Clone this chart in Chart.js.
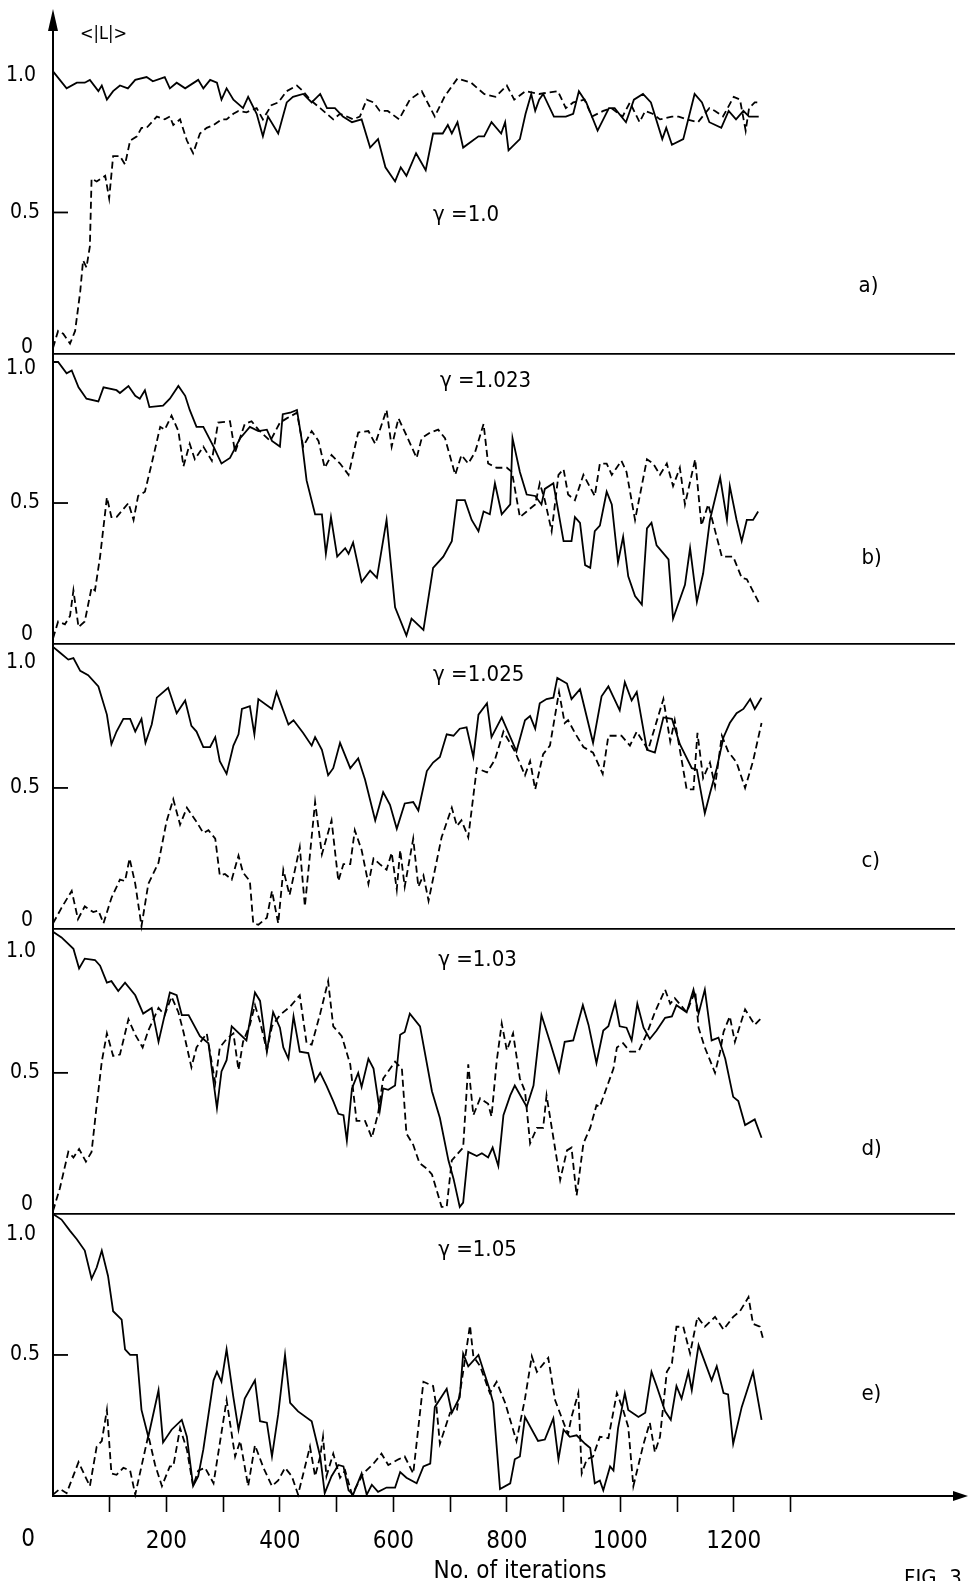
<!DOCTYPE html>
<html>
<head>
<meta charset="utf-8">
<title>FIG. 3</title>
<script src="https://cdn.jsdelivr.net/npm/chart.js@4/dist/chart.umd.min.js"></script>
<style>
    html, body { margin: 0; padding: 0; background: #fff; }
    canvas { display: block; }
</style>
</head>
<body>
<canvas id="fig" width="974" height="1581"></canvas>
<script>
"use strict";

// x axis: tick marks and the ones that carry a label
var xTicks = [100, 200, 300, 400, 500, 600, 700, 800, 900, 1000, 1100, 1200, 1300];
var xLabels = [200, 400, 600, 800, 1000, 1200];
var yTicks = [0, 0.5, 1.0];

// series are [iteration, <|L|>] pairs
// a) gamma = 1.0
var aSolid = [[0,1.0],[24,.94],[42,.96],[56,.96],[65,.97],[80,.93],[86,.95],[95,.90],[106,.93],[118,.95],[132,.94],[145,.97],[165,.98],[176,.965],[197,.98],[206,.94],[218,.96],[233,.94],[256,.97],[265,.94],[277,.97],[289,.96],[297,.90],[306,.94],[318,.90],[335,.87],[344,.91],[359,.85],[370,.77],[379,.84],[397,.78],[412,.89],[423,.91],[441,.92],[456,.89],[471,.92],[483,.87],[497,.87],[511,.84],[527,.82],[544,.83],[559,.73],[573,.76],[586,.66],[603,.61],[613,.66],[623,.63],[640,.71],[657,.65],[670,.78],[687,.78],[696,.81],[703,.78],[713,.82],[723,.73],[750,.77],[760,.77],[773,.82],[790,.78],[797,.82],[803,.72],[823,.76],[833,.85],[843,.92],[850,.86],[857,.90],[864,.92],[883,.84],[904,.84],[917,.85],[927,.93],[940,.89],[960,.79],[980,.87],[990,.87],[1010,.82],[1024,.90],[1040,.92],[1054,.89],[1074,.76],[1081,.80],[1091,.74],[1111,.76],[1131,.92],[1144,.89],[1157,.82],[1178,.80],[1191,.86],[1204,.83],[1217,.86],[1227,.84],[1244,.84]];
var aDashed = [[0,.02],[9,.08],[18,.07],[30,.035],[39,.08],[48,.22],[53,.33],[59,.305],[65,.38],[68,.62],[77,.61],[92,.63],[99,.55],[106,.70],[118,.70],[127,.67],[136,.755],[148,.77],[156,.80],[165,.80],[183,.84],[197,.83],[206,.84],[212,.81],[224,.83],[236,.755],[247,.71],[259,.78],[271,.80],[283,.81],[297,.83],[306,.83],[318,.85],[327,.86],[341,.855],[359,.87],[370,.83],[385,.88],[397,.89],[412,.93],[430,.95],[441,.93],[453,.90],[471,.87],[494,.83],[506,.85],[518,.84],[529,.83],[541,.84],[553,.90],[565,.89],[576,.86],[590,.86],[610,.83],[629,.90],[643,.92],[650,.93],[673,.84],[690,.91],[713,.975],[737,.96],[760,.92],[780,.91],[800,.95],[813,.90],[833,.93],[857,.92],[890,.93],[904,.87],[917,.89],[937,.90],[950,.84],[970,.86],[984,.87],[1004,.84],[1017,.89],[1034,.82],[1044,.86],[1057,.85],[1070,.83],[1091,.84],[1103,.84],[1117,.83],[1137,.82],[1157,.87],[1167,.86],[1181,.84],[1200,.91],[1211,.90],[1221,.79],[1227,.87],[1237,.89],[1244,.89]];

// b) gamma = 1.023
var bSolid = [[0,1.0],[9,1.0],[24,.96],[33,.97],[45,.91],[59,.87],[80,.86],[89,.91],[112,.90],[118,.89],[133,.915],[145,.88],[153,.87],[162,.90],[170,.84],[194,.845],[206,.87],[221,.915],[233,.88],[241,.83],[253,.77],[265,.77],[283,.70],[297,.64],[312,.66],[330,.73],[347,.77],[362,.755],[377,.76],[386,.72],[400,.70],[405,.815],[418,.82],[430,.83],[438,.73],[447,.58],[462,.46],[474,.46],[481,.32],[490,.45],[501,.31],[515,.34],[521,.32],[529,.36],[544,.22],[559,.26],[571,.235],[588,.44],[603,.13],[623,.03],[632,.09],[653,.05],[670,.27],[688,.31],[703,.365],[712,.51],[726,.51],[738,.44],[750,.40],[759,.47],[770,.46],[779,.57],[791,.46],[806,.495],[810,.73],[823,.61],[835,.53],[850,.525],[861,.495],[867,.55],[882,.57],[900,.365],[914,.365],[920,.45],[929,.43],[938,.28],[947,.27],[955,.40],[964,.42],[976,.54],[985,.495],[996,.29],[1005,.38],[1014,.24],[1026,.17],[1038,.14],[1047,.41],[1055,.43],[1064,.35],[1085,.30],[1093,.09],[1114,.21],[1123,.34],[1135,.15],[1146,.25],[1158,.44],[1176,.59],[1188,.44],[1193,.56],[1205,.44],[1214,.365],[1223,.44],[1234,.44],[1243,.47]];
var bDashed = [[0,.02],[9,.08],[21,.07],[30,.10],[36,.19],[45,.06],[56,.08],[68,.20],[74,.19],[83,.31],[95,.52],[103,.45],[112,.45],[133,.50],[142,.44],[150,.525],[162,.54],[174,.64],[189,.77],[197,.76],[209,.81],[221,.755],[230,.63],[241,.71],[250,.655],[265,.70],[280,.65],[291,.785],[312,.79],[321,.68],[338,.78],[350,.79],[362,.76],[383,.72],[400,.785],[412,.80],[421,.81],[430,.82],[441,.70],[456,.755],[468,.72],[479,.625],[491,.67],[506,.64],[521,.60],[538,.75],[556,.755],[568,.71],[588,.83],[597,.70],[609,.80],[623,.74],[641,.66],[650,.73],[665,.75],[679,.76],[691,.73],[709,.60],[720,.67],[732,.64],[744,.68],[759,.78],[767,.64],[782,.625],[800,.625],[809,.61],[823,.45],[835,.47],[850,.495],[858,.57],[867,.51],[879,.40],[891,.60],[900,.62],[908,.53],[920,.51],[935,.60],[955,.525],[964,.64],[976,.64],[985,.60],[1002,.65],[1011,.61],[1026,.44],[1047,.655],[1058,.64],[1070,.60],[1082,.64],[1093,.56],[1105,.625],[1114,.495],[1132,.655],[1143,.42],[1155,.495],[1179,.31],[1199,.31],[1214,.235],[1223,.23],[1246,.14]];

// c) gamma = 1.025
var cSolid = [[0,1.0],[12,.98],[27,.955],[36,.96],[48,.915],[62,.90],[80,.86],[95,.76],[103,.655],[112,.70],[124,.745],[136,.745],[145,.70],[156,.745],[163,.66],[174,.725],[183,.82],[203,.855],[218,.765],[233,.81],[244,.72],[253,.70],[265,.645],[277,.645],[286,.68],[294,.595],[306,.55],[318,.65],[327,.69],[333,.78],[347,.79],[355,.69],[362,.815],[386,.78],[394,.84],[415,.725],[424,.74],[441,.695],[456,.65],[462,.68],[474,.635],[485,.545],[494,.57],[506,.66],[524,.57],[538,.605],[550,.53],[568,.385],[582,.485],[594,.44],[606,.355],[620,.445],[635,.45],[644,.42],[659,.56],[670,.59],[682,.61],[694,.69],[706,.685],[717,.71],[729,.715],[741,.61],[750,.76],[765,.80],[773,.68],[791,.75],[817,.63],[832,.74],[841,.755],[850,.71],[858,.80],[870,.815],[882,.82],[889,.89],[906,.87],[914,.815],[929,.85],[952,.66],[967,.825],[979,.86],[999,.775],[1008,.875],[1020,.81],[1029,.84],[1047,.635],[1061,.625],[1076,.75],[1091,.745],[1105,.655],[1126,.57],[1135,.565],[1149,.41],[1158,.48],[1170,.57],[1182,.68],[1193,.73],[1205,.765],[1217,.78],[1229,.815],[1237,.78],[1249,.82]];
var cDashed = [[0,.02],[15,.075],[33,.135],[44,.035],[56,.08],[71,.06],[80,.065],[89,.02],[103,.11],[118,.175],[127,.17],[135,.25],[145,.16],[156,.01],[168,.16],[186,.235],[200,.38],[212,.46],[224,.37],[236,.43],[253,.38],[265,.34],[274,.35],[286,.32],[294,.19],[303,.195],[315,.175],[327,.26],[335,.20],[347,.17],[353,.02],[362,.015],[377,.04],[386,.135],[397,.02],[406,.21],[417,.12],[435,.29],[444,.08],[462,.45],[474,.265],[491,.385],[503,.17],[512,.23],[524,.23],[532,.35],[544,.28],[556,.16],[565,.25],[576,.23],[588,.21],[597,.27],[606,.14],[612,.28],[620,.15],[635,.32],[644,.15],[653,.19],[662,.10],[685,.325],[703,.43],[712,.365],[720,.385],[732,.325],[747,.57],[765,.555],[779,.60],[794,.70],[814,.63],[832,.545],[841,.595],[850,.495],[864,.62],[876,.65],[892,.84],[902,.73],[908,.74],[920,.695],[935,.645],[952,.625],[969,.55],[979,.685],[1002,.685],[1017,.65],[1029,.70],[1049,.635],[1076,.815],[1088,.665],[1096,.74],[1117,.495],[1129,.495],[1136,.695],[1146,.535],[1158,.59],[1167,.505],[1179,.685],[1190,.63],[1205,.59],[1220,.50],[1234,.595],[1249,.73]];

// d) gamma = 1.03
var dSolid = [[0,1.0],[15,.98],[36,.94],[46,.87],[56,.905],[74,.90],[83,.88],[95,.82],[103,.825],[115,.79],[127,.82],[145,.775],[159,.71],[174,.73],[186,.61],[206,.785],[218,.775],[227,.705],[239,.705],[259,.63],[274,.605],[289,.375],[297,.505],[306,.545],[315,.665],[341,.615],[356,.785],[365,.755],[377,.575],[388,.715],[400,.66],[406,.59],[415,.55],[424,.70],[435,.575],[450,.57],[462,.47],[471,.50],[482,.455],[494,.40],[503,.355],[512,.35],[518,.26],[527,.445],[538,.50],[544,.45],[556,.55],[565,.515],[576,.365],[582,.445],[591,.44],[603,.455],[612,.635],[620,.645],[629,.71],[647,.665],[668,.435],[682,.34],[697,.19],[706,.125],[717,.025],[723,.04],[732,.22],[747,.205],[756,.215],[767,.20],[775,.235],[785,.17],[794,.35],[806,.42],[814,.455],[835,.38],[847,.455],[861,.705],[876,.61],[892,.505],[902,.61],[917,.615],[934,.74],[944,.67],[958,.535],[970,.65],[979,.665],[991,.75],[999,.665],[1011,.66],[1020,.615],[1030,.745],[1041,.66],[1052,.62],[1064,.65],[1079,.695],[1091,.70],[1099,.74],[1117,.715],[1129,.795],[1138,.71],[1149,.795],[1161,.615],[1173,.625],[1185,.55],[1199,.415],[1208,.40],[1220,.315],[1237,.335],[1249,.27]];
var dDashed = [[0,.01],[12,.09],[27,.22],[36,.20],[46,.23],[58,.185],[68,.22],[77,.385],[86,.54],[95,.64],[106,.56],[118,.565],[133,.69],[145,.635],[158,.59],[168,.65],[186,.73],[197,.705],[209,.77],[221,.715],[230,.645],[244,.52],[253,.59],[271,.64],[286,.465],[294,.59],[306,.62],[318,.64],[327,.51],[335,.61],[347,.67],[356,.74],[365,.68],[377,.58],[386,.665],[400,.705],[418,.735],[435,.775],[447,.605],[456,.60],[471,.71],[485,.825],[494,.665],[509,.63],[524,.53],[529,.44],[535,.33],[550,.33],[562,.27],[573,.355],[582,.48],[603,.54],[615,.515],[623,.285],[635,.245],[646,.18],[659,.16],[668,.14],[685,.025],[694,.025],[703,.19],[723,.235],[732,.53],[741,.35],[753,.41],[767,.39],[773,.345],[782,.54],[791,.675],[800,.58],[811,.64],[823,.48],[832,.435],[841,.25],[853,.305],[864,.305],[870,.42],[882,.27],[894,.12],[906,.225],[914,.235],[923,.065],[935,.25],[947,.305],[958,.385],[964,.38],[979,.465],[988,.515],[994,.59],[1005,.605],[1017,.575],[1032,.575],[1047,.64],[1061,.715],[1079,.795],[1088,.745],[1096,.765],[1117,.715],[1132,.79],[1138,.66],[1149,.59],[1167,.50],[1176,.575],[1182,.645],[1193,.70],[1202,.61],[1220,.725],[1237,.67],[1249,.695]];

// e) gamma = 1.05
var eSolid = [[0,1.0],[15,.98],[30,.94],[42,.91],[56,.87],[68,.77],[77,.81],[86,.87],[97,.78],[106,.655],[121,.625],[127,.52],[136,.50],[148,.50],[156,.305],[168,.21],[186,.375],[194,.19],[209,.235],[227,.27],[236,.21],[247,.035],[256,.07],[265,.165],[283,.41],[289,.44],[297,.405],[306,.52],[318,.35],[327,.235],[338,.345],[356,.41],[365,.265],[377,.26],[386,.14],[397,.29],[409,.50],[418,.33],[432,.30],[456,.265],[471,.14],[479,.01],[491,.07],[503,.11],[512,.105],[521,.02],[529,.005],[544,.08],[553,.005],[562,.04],[573,.015],[588,.03],[603,.03],[612,.085],[623,.065],[641,.045],[653,.105],[665,.115],[673,.315],[694,.38],[703,.295],[717,.35],[723,.505],[732,.46],[750,.50],[770,.375],[776,.33],[788,.025],[806,.045],[814,.13],[823,.14],[832,.28],[855,.195],[867,.20],[882,.275],[891,.13],[900,.235],[911,.21],[923,.215],[938,.185],[947,.17],[955,.045],[964,.055],[970,.02],[982,.105],[988,.09],[996,.24],[1008,.365],[1014,.305],[1032,.28],[1044,.295],[1055,.44],[1064,.39],[1079,.30],[1089,.27],[1099,.39],[1108,.345],[1120,.44],[1126,.375],[1138,.535],[1161,.41],[1170,.46],[1182,.365],[1190,.36],[1199,.185],[1214,.315],[1234,.44],[1249,.27]];
var eDashed = [[0,.005],[12,.025],[24,.01],[45,.12],[65,.035],[77,.175],[86,.195],[95,.305],[103,.08],[112,.075],[124,.10],[136,.09],[145,.005],[168,.215],[180,.11],[192,.035],[206,.105],[212,.105],[224,.24],[236,.165],[247,.035],[256,.09],[268,.10],[283,.045],[306,.34],[321,.14],[330,.195],[344,.035],[356,.18],[371,.10],[386,.035],[397,.055],[409,.10],[421,.07],[432,.005],[453,.175],[462,.07],[471,.14],[476,.21],[482,.07],[494,.15],[506,.065],[515,.09],[527,.005],[547,.08],[565,.115],[579,.15],[591,.11],[609,.13],[620,.14],[635,.08],[653,.405],[670,.39],[676,.315],[682,.185],[700,.295],[712,.305],[720,.40],[735,.605],[741,.495],[753,.46],[770,.365],[782,.405],[797,.33],[817,.195],[832,.345],[844,.495],[853,.44],[873,.49],[885,.34],[900,.26],[908,.22],[914,.28],[926,.365],[932,.08],[941,.13],[952,.14],[964,.21],[979,.205],[994,.365],[1005,.305],[1014,.245],[1023,.035],[1041,.185],[1052,.26],[1061,.155],[1070,.21],[1082,.44],[1091,.47],[1099,.60],[1111,.60],[1123,.505],[1136,.635],[1149,.60],[1167,.635],[1182,.59],[1199,.635],[1211,.655],[1226,.705],[1234,.61],[1246,.60],[1252,.555]];

var gammas = ["1.0", "1.023", "1.025", "1.03", "1.05"];
var letters = ["a)", "b)", "c)", "d)", "e)"];

// panel layout: axis top, where the gamma note and the letter sit (in data units),
// and how far the "1.0" / "0" tick labels are nudged off their lines
var panels = [
    { id: "yA", solid: aSolid, dashed: aDashed, max: 1.2, gammaAt: [670, 0.49], letterAt: [1420, 0.24], topShift: 4, zeroShift: -6 },
    { id: "yB", solid: bSolid, dashed: bDashed, max: 1.03, gammaAt: [682, 0.93], letterAt: [1425, 0.305], topShift: 7, zeroShift: -10 },
    { id: "yC", solid: cSolid, dashed: cDashed, max: 1.01, gammaAt: [670, 0.90], letterAt: [1425, 0.24], topShift: 16, zeroShift: -8 },
    { id: "yD", solid: dSolid, dashed: dDashed, max: 1.01, gammaAt: [679, 0.90], letterAt: [1425, 0.23], topShift: 20, zeroShift: -9 },
    { id: "yE", solid: eSolid, dashed: eDashed, max: 1.0, gammaAt: [679, 0.87], letterAt: [1425, 0.36], topShift: 21, zeroShift: null }
];

var FAMILY = '"DejaVu Sans Condensed", "Liberation Sans Narrow", "DejaVu Sans", sans-serif';
var INK = "#000";

function toPoints(pairs) {
    return pairs.map(function (p) {
        return { x: p[0], y: p[1] };
    });
}

var scales = {
    x: {
        type: "linear",
        min: 0,
        max: 1590,
        afterBuildTicks: function (scale) {
            scale.ticks = xTicks.map(function (v) { return { value: v }; });
        },
        afterFit: function (scale) {
            scale.height = 85;
        },
        grid: {
            display: true,
            drawOnChartArea: false,
            drawTicks: true,
            tickLength: 16,
            tickWidth: 1.6,
            color: INK
        },
        border: { display: true, color: INK, width: 2 },
        ticks: {
            color: INK,
            font: { family: FAMILY, size: 24 },
            padding: 15,
            maxRotation: 0,
            autoSkip: false,
            callback: function (value) {
                return xLabels.indexOf(value) >= 0 ? String(value) : "";
            }
        }
    }
};

// left axes are stacked; the last one listed ends up on top
panels.slice().reverse().forEach(function (p) {
    scales[p.id] = {
        type: "linear",
        position: "left",
        stack: "panels",
        stackWeight: p.max,
        min: 0,
        max: p.max,
        afterBuildTicks: function (scale) {
            scale.ticks = yTicks.map(function (v) { return { value: v }; });
        },
        afterFit: function (scale) {
            scale.width = 0;
        },
        grid: {
            drawTicks: false,
            tickLength: 0,
            lineWidth: 1.8,
            color: function (ctx) {
                return ctx.tick && ctx.tick.value === 0 ? INK : "rgba(0,0,0,0)";
            }
        },
        border: { display: true, color: INK, width: 2 },
        ticks: { display: false }
    };
});

var datasets = [];
panels.forEach(function (p) {
    datasets.push({ data: toPoints(p.solid), yAxisID: p.id, borderColor: INK, borderDash: [] });
    datasets.push({ data: toPoints(p.dashed), yAxisID: p.id, borderColor: INK, borderDash: [7, 4] });
});

// text, arrows and inward ticks that Chart.js has no option for
var decorations = {
    id: "decorations",
    afterDraw: function (chart) {
        var ctx = chart.ctx;
        var area = chart.chartArea;
        var x = chart.scales.x;

        ctx.save();
        ctx.fillStyle = INK;
        ctx.strokeStyle = INK;
        ctx.lineWidth = 1.8;

        panels.forEach(function (p, i) {
            var y = chart.scales[p.id];
            var half = y.getPixelForValue(0.5);

            ctx.beginPath();
            ctx.moveTo(area.left, half);
            ctx.lineTo(area.left + 15, half);
            ctx.stroke();

            ctx.font = "21px " + FAMILY;
            ctx.textAlign = "right";
            ctx.textBaseline = "middle";
            ctx.fillText("1.0", area.left - 17, y.getPixelForValue(1) + p.topShift);
            ctx.fillText("0.5", area.left - 13, half);
            if (p.zeroShift !== null) {
                ctx.fillText("0", area.left - 20, y.getPixelForValue(0) + p.zeroShift);
            }

            ctx.font = "22px " + FAMILY;
            ctx.textAlign = "left";
            ctx.fillText("\u03b3 =" + gammas[i], x.getPixelForValue(p.gammaAt[0]), y.getPixelForValue(p.gammaAt[1]));
            ctx.fillText(letters[i], x.getPixelForValue(p.letterAt[0]), y.getPixelForValue(p.letterAt[1]));
        });

        // arrow heads on both axes
        ctx.beginPath();
        ctx.moveTo(area.left, area.top - 6);
        ctx.lineTo(area.left - 5, area.top + 16);
        ctx.lineTo(area.left + 5, area.top + 16);
        ctx.closePath();
        ctx.fill();

        ctx.beginPath();
        ctx.moveTo(area.right + 13, area.bottom);
        ctx.lineTo(area.right - 2, area.bottom - 5);
        ctx.lineTo(area.right - 2, area.bottom + 5);
        ctx.closePath();
        ctx.fill();

        ctx.font = "18px " + FAMILY;
        ctx.textAlign = "left";
        ctx.fillText("<|L|>", area.left + 27, area.top + 19);

        ctx.font = "24px " + FAMILY;
        ctx.textAlign = "center";
        ctx.fillText("0", 28, 1540);
        ctx.fillText("No. of iterations", 520, 1572);

        ctx.textAlign = "left";
        ctx.textBaseline = "top";
        ctx.font = "22px " + FAMILY;
        ctx.fillText("FIG. 3", 904, 1568);
        ctx.restore();
    }
};

new Chart(document.getElementById("fig"), {
    type: "line",
    data: { datasets: datasets },
    options: {
        responsive: false,
        animation: false,
        devicePixelRatio: 1,
        events: [],
        layout: { padding: { left: 53, right: 19, top: 15, bottom: 0 } },
        datasets: {
            line: {
                borderWidth: 1.8,
                pointRadius: 0,
                tension: 0,
                fill: false,
                clip: false
            }
        },
        plugins: {
            colors: { enabled: false },
            legend: { display: false },
            tooltip: { enabled: false }
        },
        scales: scales
    },
    plugins: [decorations]
});
</script>
</body>
</html>
